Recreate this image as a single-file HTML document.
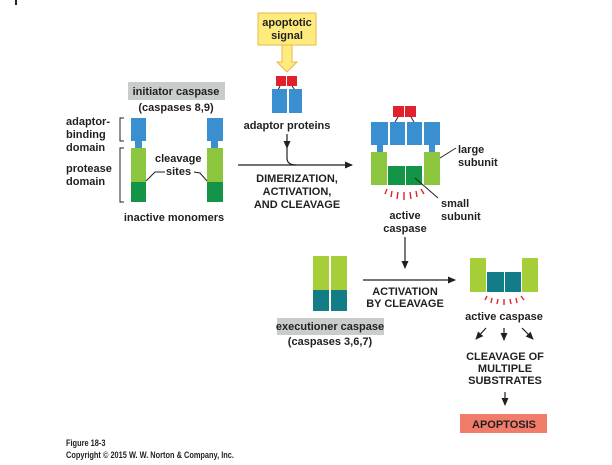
<!DOCTYPE html>
<html><head><meta charset="utf-8"><style>
html,body{margin:0;padding:0;background:#fff;}
svg{display:block;}
text{font-family:"Liberation Sans",sans-serif;font-weight:bold;font-size:11px;fill:#231f20;}
</style></head><body>
<svg width="612" height="465" viewBox="0 0 612 465" xmlns="http://www.w3.org/2000/svg">
<defs>
<marker id="ah" markerWidth="8" markerHeight="8" refX="7" refY="4" orient="auto" markerUnits="userSpaceOnUse">
<path d="M0,0.5 L8,4 L0,7.5 Z" fill="#231f20"/></marker>
</defs>
<rect x="15" y="0" width="2" height="5" fill="#222"/>

<rect x="258" y="13" width="58" height="32" fill="#fdeb7e" stroke="#e8b94a" stroke-width="1"/>
<text x="287" y="26" text-anchor="middle">apoptotic</text>
<text x="287" y="39" text-anchor="middle">signal</text>
<path d="M282,45 L292,45 L292,62 L297,62 L287,72 L277,62 L282,62 Z" fill="#fdeb7e" stroke="#e8b94a" stroke-width="1"/>
<rect x="276" y="76" width="10" height="10" fill="#e0222e"/>
<rect x="287" y="76" width="10" height="10" fill="#e0222e"/>
<path d="M280,86 L278,90 M292,86 L295,90" stroke="#222" stroke-width="1"/>
<rect x="272" y="89" width="15" height="24" fill="#3a8fd0"/>
<rect x="289" y="89" width="13" height="24" fill="#3a8fd0"/>
<text x="287" y="129" text-anchor="middle">adaptor proteins</text>
<path d="M287,134 L287,148" stroke="#231f20" stroke-width="1.2" marker-end="url(#ah)"/>
<path d="M287,148 L287,158 Q287,165 296,165" fill="none" stroke="#231f20" stroke-width="1.2"/>
<path d="M238,165 L352,165" stroke="#231f20" stroke-width="1.2" marker-end="url(#ah)"/>
<text x="297" y="182" text-anchor="middle">DIMERIZATION,</text>
<text x="297" y="195" text-anchor="middle">ACTIVATION,</text>
<text x="297" y="208" text-anchor="middle">AND CLEAVAGE</text>

<rect x="128" y="82" width="97" height="18" fill="#c8ccca"/>
<text x="176" y="95" text-anchor="middle">initiator caspase</text>
<text x="176" y="111" text-anchor="middle">(caspases 8,9)</text>
<text x="66" y="125">adaptor-</text>
<text x="66" y="138">binding</text>
<text x="66" y="151">domain</text>
<text x="66" y="172">protease</text>
<text x="66" y="185">domain</text>
<path d="M124,118 L120,118 L120,141 L124,141 M124,148 L120,148 L120,202 L124,202" fill="none" stroke="#231f20" stroke-width="1"/>
<g>
<rect x="131" y="118" width="15" height="23" fill="#3a8fd0"/>
<rect x="135" y="141" width="7" height="7" fill="#3a8fd0"/>
<rect x="131" y="148" width="15" height="34" fill="#8cc63f"/>
<rect x="131" y="182" width="15" height="20" fill="#139447"/>
<rect x="207" y="118" width="16" height="23" fill="#3a8fd0"/>
<rect x="211" y="141" width="7" height="7" fill="#3a8fd0"/>
<rect x="207" y="148" width="16" height="34" fill="#8cc63f"/>
<rect x="207" y="182" width="16" height="20" fill="#139447"/>
</g>
<text x="155" y="162">cleavage</text>
<text x="166" y="175">sites</text>
<path d="M165,172 L155,172 L146,181 M194,172 L200,173 L207,181" fill="none" stroke="#231f20" stroke-width="1"/>
<text x="174" y="221" text-anchor="middle">inactive monomers</text>

<rect x="393" y="106" width="11" height="11" fill="#e0222e"/>
<rect x="405" y="106" width="11" height="11" fill="#e0222e"/>
<path d="M398,117 L395,122 M411,117 L414,122" stroke="#222" stroke-width="1"/>
<rect x="371" y="122" width="17" height="23" fill="#3a8fd0"/>
<rect x="390" y="122" width="15" height="23" fill="#3a8fd0"/>
<rect x="407" y="122" width="15" height="23" fill="#3a8fd0"/>
<rect x="424" y="122" width="16" height="23" fill="#3a8fd0"/>
<rect x="377" y="145" width="6" height="7" fill="#3a8fd0"/>
<rect x="429" y="145" width="6" height="7" fill="#3a8fd0"/>
<rect x="371" y="152" width="16" height="33" fill="#8cc63f"/>
<rect x="424" y="152" width="16" height="33" fill="#8cc63f"/>
<rect x="388" y="166" width="17" height="19" fill="#139447"/>
<rect x="406" y="166" width="16" height="19" fill="#139447"/>
<g stroke="#e0222e" stroke-width="1.4">
<path d="M387,189 L385,194 M392,191 L391,197 M398,192 L397,199 M404,192 L404,200 M410,192 L411,199 M416,191 L417,197 M421,189 L424,194"/>
</g>
<text x="405" y="219" text-anchor="middle">active</text>
<text x="405" y="232" text-anchor="middle">caspase</text>
<text x="458" y="153">large</text>
<text x="458" y="166">subunit</text>
<path d="M440,158 L456,148" stroke="#231f20" stroke-width="1"/>
<text x="441" y="207">small</text>
<text x="441" y="220">subunit</text>
<path d="M415,178 L438,198" stroke="#231f20" stroke-width="1"/>
<path d="M405,237 L405,268" stroke="#231f20" stroke-width="1.2" marker-end="url(#ah)"/>

<rect x="313" y="256" width="16" height="34" fill="#a6ce39"/>
<rect x="331" y="256" width="16" height="34" fill="#a6ce39"/>
<rect x="313" y="290" width="16" height="21" fill="#127c87"/>
<rect x="331" y="290" width="16" height="21" fill="#127c87"/>
<rect x="277" y="318" width="107" height="17" fill="#c8ccca"/>
<text x="330" y="330" text-anchor="middle">executioner caspase</text>
<text x="330" y="345" text-anchor="middle">(caspases 3,6,7)</text>
<path d="M363,280 L455,280" stroke="#231f20" stroke-width="1.2" marker-end="url(#ah)"/>
<text x="405" y="295" text-anchor="middle">ACTIVATION</text>
<text x="405" y="307" text-anchor="middle">BY CLEAVAGE</text>

<rect x="470" y="258" width="16" height="34" fill="#a6ce39"/>
<rect x="522" y="258" width="16" height="34" fill="#a6ce39"/>
<rect x="487" y="272" width="17" height="20" fill="#127c87"/>
<rect x="505" y="272" width="16" height="20" fill="#127c87"/>
<g stroke="#e0222e" stroke-width="1.4">
<path d="M487,296 L485,300 M492,298 L491,303 M498,299 L497,304 M504,299 L504,305 M510,299 L511,304 M516,298 L517,303 M521,296 L524,300"/>
</g>
<text x="504" y="320" text-anchor="middle">active caspase</text>
<path d="M486,328 L476,339" stroke="#231f20" stroke-width="1.2" marker-end="url(#ah)"/>
<path d="M504,328 L504,340" stroke="#231f20" stroke-width="1.2" marker-end="url(#ah)"/>
<path d="M522,328 L533,339" stroke="#231f20" stroke-width="1.2" marker-end="url(#ah)"/>
<text x="505" y="360" text-anchor="middle">CLEAVAGE OF</text>
<text x="505" y="372" text-anchor="middle">MULTIPLE</text>
<text x="505" y="384" text-anchor="middle">SUBSTRATES</text>
<path d="M505,392 L505,405" stroke="#231f20" stroke-width="1.2" marker-end="url(#ah)"/>
<rect x="460" y="414" width="87" height="19" fill="#f27c6a"/>
<text x="504" y="428" text-anchor="middle">APOPTOSIS</text>

<text x="66" y="446" style="font-size:9.5px" transform="translate(66,0) scale(0.78,1) translate(-66,0)">Figure 18-3</text>
<text x="66" y="458" style="font-size:9.5px" transform="translate(66,0) scale(0.78,1) translate(-66,0)">Copyright © 2015 W. W. Norton &amp; Company, Inc.</text>
</svg>
</body></html>
